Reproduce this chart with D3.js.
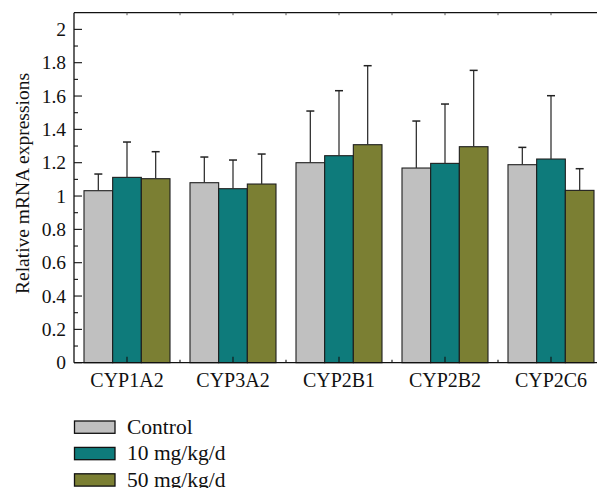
<!DOCTYPE html>
<html><head><meta charset="utf-8">
<script src="https://cdn.jsdelivr.net/npm/d3@7"></script>
</head><body style="margin:0;background:#fff">
<svg id="c" width="597" height="488" font-family="Liberation Serif"></svg>
<script>
const categories = ["CYP1A2","CYP3A2","CYP2B1","CYP2B2","CYP2C6"];
const seriesNames = ["Control","10 mg/kg/d","50 mg/kg/d"];
const controlMean = [1.032,1.080,1.200,1.168,1.188];
const controlErr  = [1.132,1.234,1.510,1.450,1.292];
const dose10Mean  = [1.112,1.044,1.242,1.196,1.222];
const dose10Err   = [1.324,1.216,1.632,1.552,1.602];
const dose50Mean  = [1.104,1.072,1.308,1.296,1.034];
const dose50Err   = [1.266,1.252,1.782,1.754,1.164];
const yTicks = [0,0.2,0.4,0.6,0.8,1,1.2,1.4,1.6,1.8,2];
const colors = ["#c0c0c0","#0e7b7b","#7b7f33"];

const means = [controlMean, dose10Mean, dose50Mean];
const errs = [controlErr, dose10Err, dose50Err];
const FF = "Liberation Serif";

const svg = d3.select("#c");
const L = 74, T = 12.7, B = 362.7, R = 604;
const x = d3.scaleBand().domain(categories).range([L, R]).paddingInner(0).paddingOuter(0);
const x1 = d3.scaleBand().domain(seriesNames).range([10, x.bandwidth()-10]);
const y = d3.scaleLinear().domain([0, 2.1]).range([B, T]);

// bars
categories.forEach((c, i) => {
  seriesNames.forEach((s, j) => {
    const bx = x(c) + x1(s);
    const w = x1.bandwidth();
    svg.append("rect").attr("x", bx).attr("y", y(means[j][i]))
      .attr("width", w).attr("height", y(0) - y(means[j][i]))
      .attr("fill", colors[j]).attr("stroke", "#1e1e1e").attr("stroke-width", 1.1);
    const cx = bx + w/2;
    svg.append("line").attr("x1", cx).attr("x2", cx)
      .attr("y1", y(means[j][i])).attr("y2", y(errs[j][i]))
      .attr("stroke", "#333").attr("stroke-width", 1.3);
    svg.append("line").attr("x1", cx-4).attr("x2", cx+4)
      .attr("y1", y(errs[j][i])).attr("y2", y(errs[j][i]))
      .attr("stroke", "#222").attr("stroke-width", 1.5);
  });
});

// y axis
const minor = d3.range(0.1, 2.1, 0.2);
svg.append("line").attr("x1", L).attr("x2", L).attr("y1", T).attr("y2", B).attr("stroke", "#111").attr("stroke-width", 1.3);
yTicks.forEach(t => {
  svg.append("line").attr("x1", L).attr("x2", L+8).attr("y1", y(t)).attr("y2", y(t)).attr("stroke", "#111").attr("stroke-width", 1.1);
  svg.append("text").attr("x", 66).attr("y", y(t)).attr("dy", "0.34em").attr("text-anchor", "end")
    .attr("font-family", FF).attr("font-size", 19.5).attr("fill", "#111").text(d3.format("~g")(t));
});
minor.forEach(t => {
  svg.append("line").attr("x1", L).attr("x2", L+4).attr("y1", y(t)).attr("y2", y(t)).attr("stroke", "#111").attr("stroke-width", 1.1);
});

// x axis bottom and top
svg.append("line").attr("x1", L).attr("x2", R).attr("y1", B).attr("y2", B).attr("stroke", "#111").attr("stroke-width", 1.3);
svg.append("line").attr("x1", L).attr("x2", R).attr("y1", T).attr("y2", T).attr("stroke", "#111").attr("stroke-width", 1.3);
categories.forEach((c, i) => {
  const cx = x(c) + x.bandwidth()/2;
  svg.append("line").attr("x1", cx).attr("x2", cx).attr("y1", B).attr("y2", B-6).attr("stroke", "#111").attr("stroke-width", 1.1);
  svg.append("line").attr("x1", cx).attr("x2", cx).attr("y1", T).attr("y2", T+2.5).attr("stroke", "#555").attr("stroke-width", 1);
  if (i > 0) {
    svg.append("line").attr("x1", x(c)).attr("x2", x(c)).attr("y1", B).attr("y2", B-3).attr("stroke", "#111").attr("stroke-width", 1.1);
    svg.append("line").attr("x1", x(c)).attr("x2", x(c)).attr("y1", T).attr("y2", T+2.5).attr("stroke", "#555").attr("stroke-width", 1);
  }
  svg.append("text").attr("x", cx).attr("y", 387).attr("text-anchor", "middle")
    .attr("font-family", FF).attr("font-size", 20).attr("fill", "#111").text(c);
});

// y label
svg.append("text").attr("transform", "translate(29,183.5) rotate(-90)").attr("text-anchor", "middle")
  .attr("font-family", FF).attr("font-size", 19.5).attr("fill", "#111").text("Relative mRNA expressions");

// legend
seriesNames.forEach((s, j) => {
  const ly = 421 + j*26.4;
  svg.append("rect").attr("x", 74.5).attr("y", ly).attr("width", 40.5).attr("height", 12.3)
    .attr("fill", colors[j]).attr("stroke", "#111").attr("stroke-width", 1.3);
  svg.append("text").attr("x", 127).attr("y", ly + 13).attr("font-family", FF).attr("font-size", 21.5).attr("fill", "#111").text(s);
});
</script>
</body></html>
